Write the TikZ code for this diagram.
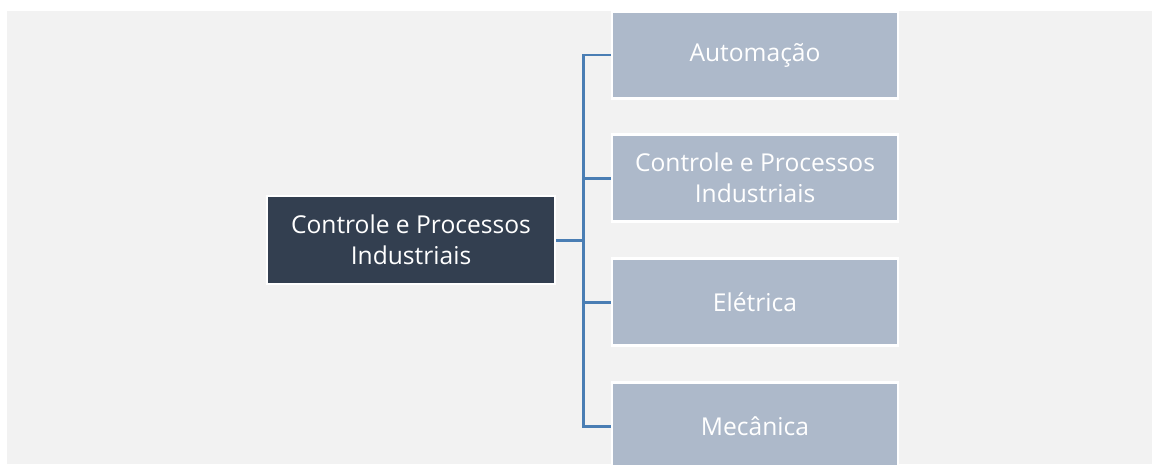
\documentclass[tikz,border=0pt]{standalone}
\usepackage{fontspec}
\setmainfont{Open Sans}
\usetikzlibrary{positioning}

\definecolor{bgGray}{HTML}{F2F2F2}
\definecolor{rootFill}{HTML}{333F50}
\definecolor{leafFill}{HTML}{ADB9CA}
\definecolor{linkBlue}{HTML}{4A7EB4}

\begin{document}
\begin{tikzpicture}[
  x=0.02cm, y=-0.02cm,
  box/.style={rectangle,draw=white,line width=1.2pt,inner sep=0pt,
    text=white,font=\fontsize{14}{17.6}\selectfont,align=center},
  root/.style={box,fill=rootFill,minimum width=5.76cm,minimum height=1.76cm},
  leaf/.style={box,fill=leafFill,minimum width=5.72cm,minimum height=1.74cm},
  link/.style={draw=linkBlue,line width=1.7pt}
]
  \clip (0,0) rectangle (1152,464);
  \useasboundingbox (0,0) rectangle (1152,464);
  \fill[bgGray] (7,11) rectangle (1152,464);

  \node[root] (cpi) at (411,240) {Controle e Processos\\Industriais};

  \node[leaf] (aut) at (755,55)  {Automação};
  \node[leaf] (ctl) at (755,178) {Controle e Processos\\Industriais};
  \node[leaf] (ele) at (755,302) {Elétrica};
  \node[leaf] (mec) at (755,426) {Mecânica};

  \coordinate (hub) at (583,240);
  \draw[link] (cpi.east) -- (hub);
  \foreach \k in {aut,ctl,ele,mec}
    \draw[link] (hub) |- (\k.west);
\end{tikzpicture}
\end{document}
